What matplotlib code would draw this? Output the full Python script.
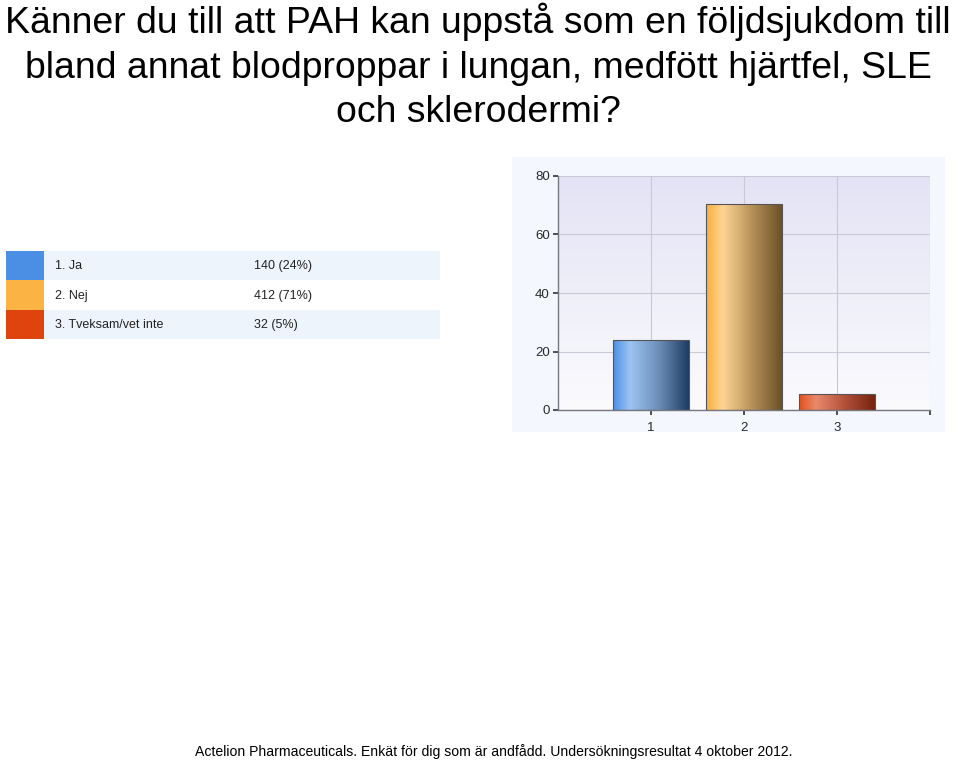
import numpy as np
import matplotlib.pyplot as plt
from matplotlib.colors import LinearSegmentedColormap
from matplotlib.patches import Rectangle

# survey data
title_lines = [
    "Känner du till att PAH kan uppstå som en följdsjukdom till",
    "bland annat blodproppar i lungan, medfött hjärtfel, SLE",
    "och sklerodermi?",
]
answers = ["1. Ja", "2. Nej", "3. Tveksam/vet inte"]
counts = [140, 412, 32]
percent_labels = ["24%", "71%", "5%"]
bar_positions = [1, 2, 3]
y_ticks = [0, 20, 40, 60, 80]
footer = ("Actelion Pharmaceuticals. Enkät för dig som är andfådd. "
          "Undersökningsresultat 4 oktober 2012.")

base_colors = ["#4a8fe3", "#fbb343", "#e0440e"]
# left, highlight, mid, right for the shaded bars
bar_gradients = [
    ["#4b8fe6", "#9cc4f2", "#6d8fb8", "#1e3c63"],
    ["#f9ae3c", "#fdd594", "#b8925a", "#6b5128"],
    ["#e2501c", "#e98a6c", "#b3503a", "#76230f"],
]

W, H = 960, 761
fig = plt.figure(figsize=(W / 100, H / 100), dpi=100)
fig.patch.set_facecolor("white")


def fx(px):
    return px / W


def fy(py):
    return 1 - py / H


# title
title_font = ["Liberation Sans", "DejaVu Sans"]
for line, base in zip(title_lines, [33, 78, 122]):
    fig.text(fx(478), fy(base), line, ha="center", va="baseline",
             fontsize=26.9, family=title_font, color="black")

# legend table
leg = fig.add_axes([fx(6), fy(339), fx(434), fy(251) - fy(339)])
leg.set_xlim(0, 434)
leg.set_ylim(len(answers), 0)
leg.axis("off")
for i, (name, n, pct) in enumerate(zip(answers, counts, percent_labels)):
    leg.add_patch(Rectangle((0, i), 38, 1, fc=base_colors[i], ec="none"))
    band = "#eef4fc" if i % 2 == 0 else "white"
    leg.add_patch(Rectangle((38, i), 396, 1, fc=band, ec="none"))
    leg.text(49, i + 0.52, name, va="center", ha="left", fontsize=9,
             family="Liberation Sans", color="#222222")
    leg.text(248, i + 0.52, f"{n} ({pct})", va="center", ha="left",
             fontsize=9, family="Liberation Sans", color="#222222")

# chart image background
fig.patches.append(Rectangle((fx(512), fy(432)), fx(433), fy(157) - fy(432),
                             transform=fig.transFigure, fc="#f4f7fd",
                             ec="none", zorder=-1))

ax = fig.add_axes([fx(558), fy(410), fx(372), fy(176) - fy(410)])

bg = LinearSegmentedColormap.from_list("bg", ["#fbfbfe", "#e3e3f5"])
ax.imshow(np.linspace(0, 1, 100).reshape(-1, 1), cmap=bg, origin="lower",
          extent=(0, 1, 0, 1), transform=ax.transAxes, aspect="auto",
          zorder=0)

total = sum(counts)
values = [c / total * 100 for c in counts]
bars = ax.bar(bar_positions, values, width=0.81, zorder=3,
              fc="none", ec="#555555", lw=0.8)
grad = np.linspace(0, 1, 200).reshape(1, -1)
for bar, cols in zip(bars, bar_gradients):
    cmap = LinearSegmentedColormap.from_list(
        "g", list(zip([0, 0.22, 0.6, 1], cols)))
    x0, y0 = bar.get_x(), bar.get_y()
    im = ax.imshow(grad, cmap=cmap, aspect="auto", zorder=2,
                   extent=(x0, x0 + bar.get_width(), y0, y0 + bar.get_height()))
    im.set_clip_path(bar)

ax.set_xlim(0, 4)
ax.set_ylim(0, 80)
ax.set_xticks([1, 2, 3, 4])
ax.set_xticklabels(["1", "2", "3", ""])
ax.set_yticks(y_ticks)
ax.grid(True, color="#c9c9d6", lw=0.8, zorder=1)
for s in ["top", "right"]:
    ax.spines[s].set_visible(False)
for s in ["left", "bottom"]:
    ax.spines[s].set_color("#77777f")
    ax.spines[s].set_linewidth(1.0)
ax.tick_params(length=3.5, width=1.2, color="#333333", labelsize=9.5,
               labelcolor="#2a2a2a", pad=2.5)
ax.tick_params(axis="x", pad=5)
for lab in ax.get_xticklabels() + ax.get_yticklabels():
    lab.set_family(["Liberation Sans Narrow", "Liberation Sans"])

# footer
fig.text(fx(494), fy(756), footer, ha="center", va="baseline",
         fontsize=10.1, family="Liberation Sans", color="black")

fig.savefig("out.png", dpi=100)
